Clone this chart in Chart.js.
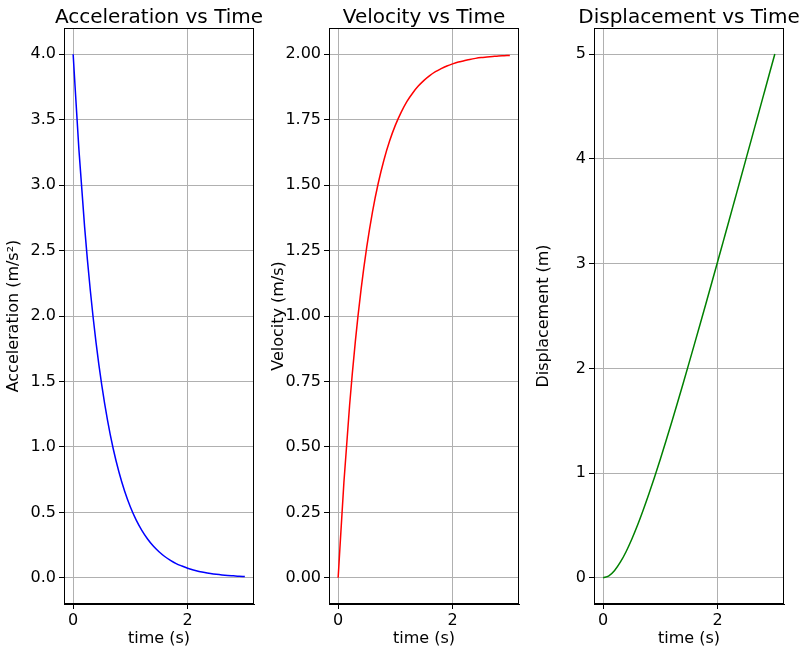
<!DOCTYPE html>
<html><head><meta charset="utf-8">
<script src="https://cdn.jsdelivr.net/npm/chart.js@4"></script>
<style>body{margin:0;background:#fff;width:807px;height:652px;position:relative;overflow:hidden}canvas{position:absolute;top:0}</style>
</head><body>
<canvas id="c0"></canvas><canvas id="c1"></canvas><canvas id="c2"></canvas>
<script>
const times=[0,0.1,0.2,0.3,0.4,0.5,0.6,0.7,0.8,0.9,1.0,1.1,1.2,1.3,1.4,1.5,1.6,1.7,1.8,1.9,2.0,2.1,2.2,2.3,2.4,2.5,2.6,2.7,2.8,2.9,3.0];
const acceleration=[4,3.275,2.681,2.195,1.797,1.472,1.205,0.986,0.808,0.661,0.541,0.443,0.363,0.297,0.243,0.199,0.163,0.134,0.109,0.090,0.073,0.060,0.049,0.040,0.033,0.027,0.022,0.018,0.015,0.012,0.010];
const velocity=[0,0.363,0.659,0.902,1.101,1.264,1.398,1.507,1.596,1.669,1.729,1.778,1.819,1.851,1.878,1.900,1.918,1.933,1.945,1.955,1.963,1.970,1.975,1.980,1.984,1.987,1.989,1.991,1.993,1.994,1.995];
const displacement=[0,0.019,0.070,0.149,0.249,0.368,0.501,0.647,0.802,0.965,1.135,1.311,1.491,1.674,1.861,2.050,2.241,2.433,2.627,2.822,3.018,3.215,3.412,3.610,3.808,4.007,4.206,4.405,4.604,4.803,5.002];
const xTicks=[0,2];
const accTicks=[0,0.5,1,1.5,2,2.5,3,3.5,4];
const velTicks=[0,0.25,0.5,0.75,1,1.25,1.5,1.75,2];
const dispTicks=[0,1,2,3,4,5];
const panels=[
 {id:'c0',left:0,title:'Acceleration vs Time',ylab:'Acceleration (m/s²)',data:acceleration,color:'#0000ff',min:-0.2,max:4.2,ticks:accTicks,dec:1},
 {id:'c1',left:265,title:'Velocity vs Time',ylab:'Velocity (m/s)',data:velocity,color:'#ff0000',min:-0.1,max:2.1,ticks:velTicks,dec:2},
 {id:'c2',left:530,title:'Displacement vs Time',ylab:'Displacement (m)',data:displacement,color:'#008000',min:-0.25,max:5.25,ticks:dispTicks,dec:0}
];
const F='"DejaVu Sans", sans-serif';
const deco={id:'deco',afterDraw(ch){const c=ch.ctx,a=ch.chartArea;c.save();c.strokeStyle='#000';c.lineWidth=1;c.strokeRect(a.left+0.5,a.top+0.5,a.right-a.left-1,a.bottom-a.top-1);
 c.fillStyle='#000';c.font='20px '+F;c.textAlign='center';c.textBaseline='alphabetic';c.fillText(ch.options.plugins.myTitle,(a.left+a.right)/2,23);c.restore();}};
panels.forEach(p=>{
 const cv=document.getElementById(p.id);const W=(p.id==='c2')?277:262;
 cv.style.left=p.left+'px';cv.width=W;cv.height=652;cv.style.width=W+'px';cv.style.height='652px';
 new Chart(cv,{type:'line',
  data:{datasets:[{data:times.map((t,i)=>({x:t,y:p.data[i]})),borderColor:p.color,borderWidth:1.5,pointRadius:0,cubicInterpolationMode:'monotone',fill:false}]},
  options:{responsive:false,animation:false,devicePixelRatio:1,
   layout:{padding:{top:28,right:W-254,left:0,bottom:0}},
   plugins:{legend:{display:false},tooltip:{enabled:false},myTitle:p.title},
   scales:{
    x:{type:'linear',min:-0.16,max:3.16,afterBuildTicks:s=>{s.ticks=xTicks.map(v=>({value:v}))},afterFit:s=>{s.height=48},
      grid:{color:'#b0b0b0',drawTicks:true,tickLength:5,tickColor:'#000'},border:{color:'#000'},
      ticks:{color:'#000',font:{size:16,family:F},maxRotation:0,padding:2},
      title:{display:true,text:'time (s)',color:'#000',font:{size:16,family:F},padding:{top:2}}},
    y:{min:p.min,max:p.max,afterBuildTicks:s=>{s.ticks=p.ticks.map(v=>({value:v}))},afterFit:s=>{s.width=64},
      grid:{color:'#b0b0b0',tickLength:5,tickColor:'#000'},border:{color:'#000'},
      ticks:{color:'#000',font:{size:16,family:F},padding:3,callback:v=>v.toFixed(p.dec)},
      title:{display:true,text:p.ylab,color:'#000',font:{size:16,family:F},padding:{bottom:4}}}
   }},plugins:[deco]});
});
</script></body></html>
